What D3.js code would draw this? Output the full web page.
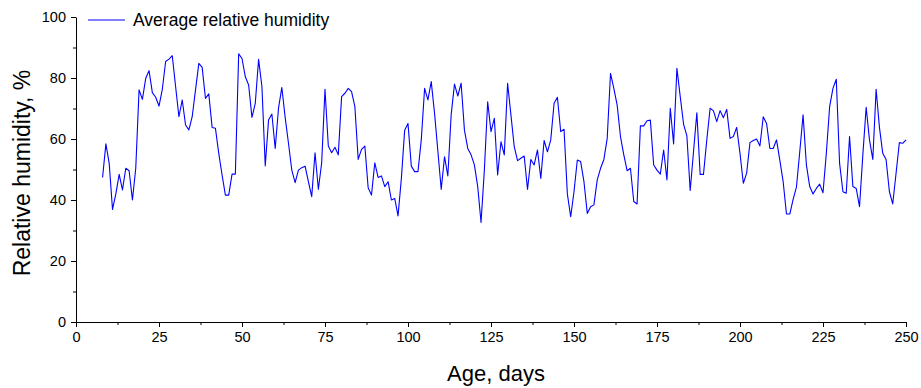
<!DOCTYPE html>
<html>
<head>
<meta charset="utf-8">
<script src="https://cdn.jsdelivr.net/npm/d3@7/dist/d3.min.js"></script>
<style>
  html, body { margin: 0; padding: 0; background: #fff; }
  svg { display: block; }
  text { font-family: "Liberation Sans", Arial, sans-serif; }
</style>
</head>
<body>
<svg id="chart" width="921" height="388"></svg>
<script>
const startDay = 8;
const humidity = [
  47.4, 58.4, 52.0, 36.9, 42.0, 48.4, 43.3, 50.4, 49.6, 40.0,
  50.4, 76.1, 73.0, 79.9, 82.4, 75.2, 73.7, 70.8, 76.3, 85.4,
  86.2, 87.3, 77.2, 67.3, 72.8, 64.6, 63.0, 67.3, 76.1, 84.8,
  83.5, 73.3, 74.8, 63.8, 63.5, 55.3, 48.2, 41.6, 41.6, 48.5,
  48.5, 87.9, 86.4, 80.4, 77.7, 67.1, 71.7, 86.1, 77.2, 51.2,
  66.2, 68.2, 56.9, 70.1, 76.9, 67.1, 58.6, 49.8, 45.7, 49.8,
  50.6, 51.1, 46.0, 41.1, 55.5, 43.5, 52.2, 76.3, 57.7, 55.5,
  57.3, 54.8, 73.9, 75.0, 76.6, 75.5, 70.6, 53.3, 56.6, 57.7,
  44.0, 41.6, 52.2, 47.4, 47.9, 44.4, 46.0, 40.0, 40.5, 34.8,
  47.0, 62.9, 65.1, 51.1, 49.3, 49.3, 59.7, 76.6, 72.8, 78.8,
  68.4, 56.0, 43.5, 54.2, 47.9, 67.9, 78.0, 74.1, 78.3, 62.9,
  56.9, 54.8, 51.5, 44.4, 32.6, 49.8, 72.2, 62.4, 66.8, 48.2,
  59.1, 54.8, 78.3, 67.9, 57.5, 52.9, 53.7, 54.4, 43.5, 53.3,
  51.5, 56.4, 47.1, 59.5, 55.8, 59.7, 71.7, 73.7, 62.4, 63.2,
  42.0, 34.5, 42.7, 53.1, 52.6, 46.0, 35.6, 37.8, 38.4, 46.6,
  50.4, 53.3, 60.2, 81.5, 76.6, 71.1, 60.8, 54.8, 49.6, 50.4,
  39.5, 38.7, 64.3, 64.3, 66.0, 66.2, 51.5, 49.8, 48.5, 56.4,
  46.6, 70.1, 58.4, 83.2, 73.9, 64.9, 61.0, 43.1, 55.8, 68.6,
  48.4, 48.4, 59.7, 70.1, 69.2, 65.7, 69.3, 67.0, 69.7, 60.2,
  60.8, 63.8, 55.3, 45.5, 48.8, 58.8, 59.5, 60.0, 57.7, 67.3,
  65.1, 56.9, 56.9, 59.7, 53.0, 46.0, 35.4, 35.4, 40.2, 44.2,
  55.8, 67.9, 51.5, 44.4, 42.0, 43.8, 45.2, 42.4, 55.3, 70.6,
  76.6, 79.6, 52.0, 42.7, 42.2, 60.8, 44.4, 43.8, 37.8, 54.8,
  70.4, 59.7, 53.3, 76.3, 63.8, 55.3, 53.3, 42.7, 38.7, 48.7,
  58.8, 58.6, 59.7
];
const days = humidity.map((_, i) => startDay + i);
const xTicks = [0, 25, 50, 75, 100, 125, 150, 175, 200, 225, 250];
const yTicks = [0, 20, 40, 60, 80, 100];
const seriesName = "Average relative humidity";
const xTitle = "Age, days";
const yTitle = "Relative humidity, %";

(function () {
const svg = d3.select("#chart");
const mLeft = 76, mRight = 906, mTop = 17, mBottom = 322;

const x = d3.scaleLinear().domain([0, 250]).range([mLeft, mRight]);
const y = d3.scaleLinear().domain([0, 100]).range([mBottom, mTop]);

const xMinor = d3.range(12.5, 250, 25);
const yMinor = d3.range(10, 100, 20);

svg.append("g").attr("transform", `translate(0,${mBottom})`)
  .call(d3.axisBottom(x).tickValues(xTicks).tickFormat(d3.format("d")).tickSize(5).tickSizeOuter(0).tickPadding(5));
svg.append("g").attr("transform", `translate(0,${mBottom})`)
  .call(d3.axisBottom(x).tickValues(xMinor).tickFormat("").tickSize(3).tickSizeOuter(0))
  .select(".domain").remove();

svg.append("g").attr("transform", `translate(${mLeft},0)`)
  .call(d3.axisLeft(y).tickValues(yTicks).tickFormat(d3.format("d")).tickSize(5).tickSizeOuter(0).tickPadding(5));
svg.append("g").attr("transform", `translate(${mLeft},0)`)
  .call(d3.axisLeft(y).tickValues(yMinor).tickFormat("").tickSize(3).tickSizeOuter(0))
  .select(".domain").remove();

svg.selectAll(".domain, .tick line").attr("stroke", "#000").attr("stroke-width", 1);
svg.selectAll(".tick text").attr("font-size", 14.5).attr("fill", "#000")
  .style("font-family", "'Liberation Sans', Arial, sans-serif");

const line = d3.line().x((d, i) => x(days[i])).y(d => y(d));
svg.append("path").datum(humidity)
  .attr("fill", "none").attr("stroke", "#0000ff").attr("stroke-width", 1.1)
  .attr("stroke-linejoin", "round")
  .attr("d", line);

svg.append("line").attr("x1", 88).attr("x2", 125).attr("y1", 20).attr("y2", 20)
  .attr("stroke", "#0000ff").attr("stroke-width", 1.1);
svg.append("text").attr("x", 133).attr("y", 26).attr("font-size", 17.5).attr("fill", "#000")
  .text(seriesName);

svg.append("text").attr("x", 496).attr("y", 381).attr("text-anchor", "middle")
  .attr("font-size", 22).attr("fill", "#000").text(xTitle);
svg.append("text").attr("transform", `translate(30,173) rotate(-90)`)
  .attr("text-anchor", "middle").attr("font-size", 23).attr("fill", "#000").text(yTitle);
})();
</script>
</body>
</html>
